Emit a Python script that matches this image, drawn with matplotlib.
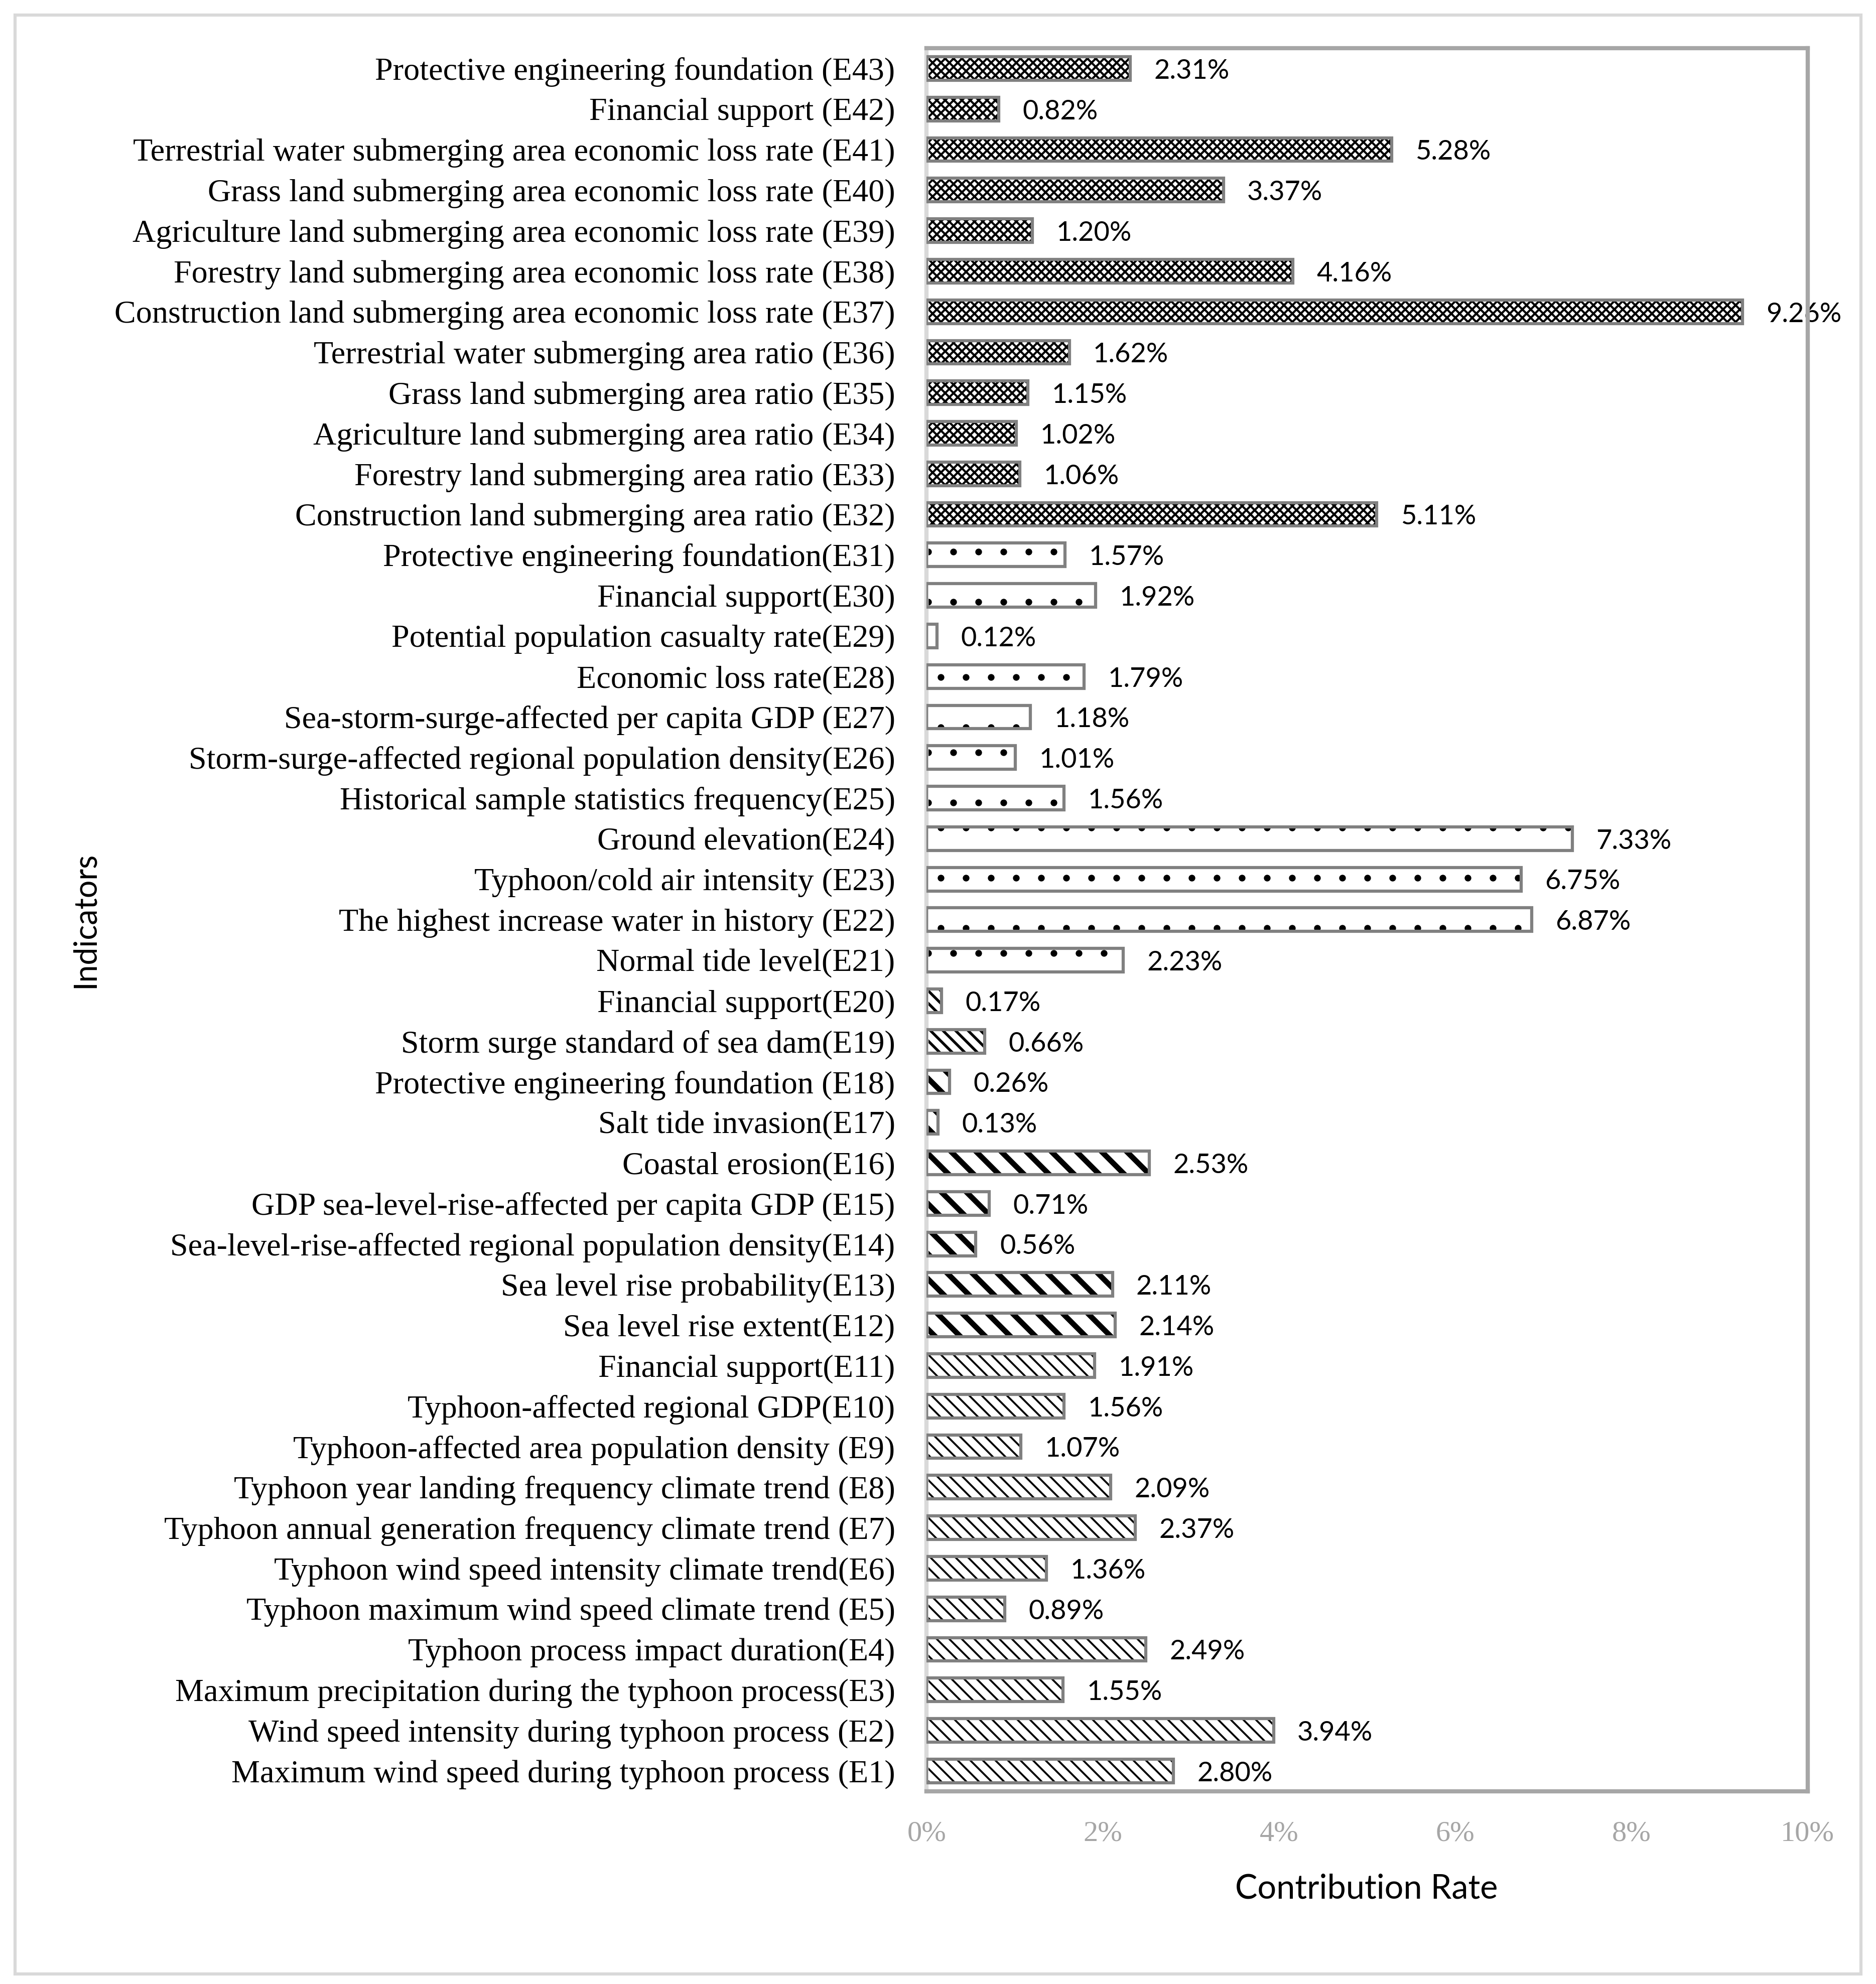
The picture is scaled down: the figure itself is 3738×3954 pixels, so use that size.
import numpy as np
import matplotlib
matplotlib.use("Agg")
import matplotlib.pyplot as plt
from matplotlib.patches import Rectangle

# data: E1 ... E43 (bottom to top)
labels = [
    "Maximum wind speed during typhoon process (E1)",
    "Wind speed intensity during typhoon process (E2)",
    "Maximum precipitation during the typhoon process(E3)",
    "Typhoon process impact duration(E4)",
    "Typhoon maximum wind speed climate trend (E5)",
    "Typhoon wind speed intensity climate trend(E6)",
    "Typhoon annual generation frequency climate trend (E7)",
    "Typhoon year landing frequency climate trend (E8)",
    "Typhoon-affected area population density (E9)",
    "Typhoon-affected regional GDP(E10)",
    "Financial support(E11)",
    "Sea level rise extent(E12)",
    "Sea level rise probability(E13)",
    "Sea-level-rise-affected regional population density(E14)",
    "GDP sea-level-rise-affected per capita GDP (E15)",
    "Coastal erosion(E16)",
    "Salt tide invasion(E17)",
    "Protective engineering foundation (E18)",
    "Storm surge standard of sea dam(E19)",
    "Financial support(E20)",
    "Normal tide level(E21)",
    "The highest increase water in history (E22)",
    "Typhoon/cold air intensity (E23)",
    "Ground elevation(E24)",
    "Historical sample statistics frequency(E25)",
    "Storm-surge-affected regional population density(E26)",
    "Sea-storm-surge-affected per capita GDP (E27)",
    "Economic loss rate(E28)",
    "Potential population casualty rate(E29)",
    "Financial support(E30)",
    "Protective engineering foundation(E31)",
    "Construction land submerging area ratio (E32)",
    "Forestry land submerging area ratio (E33)",
    "Agriculture land submerging area ratio (E34)",
    "Grass land submerging area ratio (E35)",
    "Terrestrial water submerging area ratio (E36)",
    "Construction land submerging area economic loss rate (E37)",
    "Forestry land submerging area economic loss rate (E38)",
    "Agriculture land submerging area economic loss rate (E39)",
    "Grass land submerging area economic loss rate (E40)",
    "Terrestrial water submerging area economic loss rate (E41)",
    "Financial support (E42)",
    "Protective engineering foundation (E43)",
]
values = [
    2.80, 3.94, 1.55, 2.49, 0.89, 1.36, 2.37, 2.09, 1.07, 1.56, 1.91,
    2.14, 2.11, 0.56, 0.71, 2.53, 0.13, 0.26, 0.66, 0.17,
    2.23, 6.87, 6.75, 7.33, 1.56, 1.01, 1.18, 1.79, 0.12, 1.92, 1.57,
    5.11, 1.06, 1.02, 1.15, 1.62, 9.26, 4.16, 1.20, 3.37, 5.28, 0.82, 2.31,
]
xticks = [0, 2, 4, 6, 8, 10]

# hatch styles per indicator group: (first, last, hatch, hatch linewidth)
groups = [
    (0, 10, "\\\\\\\\", 0.9),
    (11, 17, "\\\\", 2.6),
    (18, 19, "\\\\\\\\", 1.3),
    (20, 30, ".", 0.8),
    (31, 42, "xxxxxx", 1.0),
]

fig = plt.figure(figsize=(3738 / 300, 3954 / 300), dpi=300)
ax = fig.add_axes([0.4939, 0.0972, 0.4696, 0.8785])

y = np.arange(len(values))
vals = np.array(values)
bh = 0.58

for a, b, h, hlw in groups:
    sl = slice(a, b + 1)
    with plt.rc_context({"hatch.linewidth": hlw}):
        bars = ax.barh(y[sl], vals[sl], height=bh, color="white",
                       edgecolor="black", linewidth=0, hatch=h, zorder=2)
    for p in bars:
        if hasattr(p, "set_hatch_linewidth"):
            p.set_hatch_linewidth(hlw)
    # grey outline on top of the hatched fill
    ax.barh(y[sl], vals[sl], height=bh, fill=False, edgecolor="#808080",
            linewidth=1.5, zorder=3)

# value labels
for yi, v in zip(y, vals):
    ax.text(v + 0.27, yi - 0.06, f"{v:.2f}%", ha="left", va="center",
            fontsize=13, family="Lato", color="black", zorder=1)

ax.set_xlim(0, 10)
ax.set_ylim(-0.5, len(values) - 0.5)
ax.set_xticks(xticks)
ax.set_xticklabels([f"{t}%" for t in xticks], family="Liberation Serif",
                   fontsize=14, color="#a6a6a6")
ax.set_yticks(y)
ax.set_yticklabels(labels, family="Liberation Serif", fontsize=15.4)
ax.tick_params(axis="both", length=0)
ax.tick_params(axis="x", pad=14)
ax.tick_params(axis="y", pad=15)

for s in ["top", "right", "bottom"]:
    ax.spines[s].set_color("#a6a6a6")
    ax.spines[s].set_linewidth(2.0)
    ax.spines[s].set_zorder(4)
ax.spines["left"].set_color("#d9d9d9")
ax.spines["left"].set_linewidth(2.0)

fig.text(0.7284, 0.048, "Contribution Rate", ha="center", va="center",
         fontsize=16, family="Lato")
fig.text(0.0453, 0.5364, "Indicators", ha="center", va="center",
         rotation=90, fontsize=15, family="Lato")

# light grey frame round the whole figure
fig.patches.append(Rectangle((0.0081, 0.0051), 0.9838, 0.9872,
                             transform=fig.transFigure, fill=False,
                             edgecolor="#d9d9d9", linewidth=1.5))

fig.savefig("out.png", dpi=300)
